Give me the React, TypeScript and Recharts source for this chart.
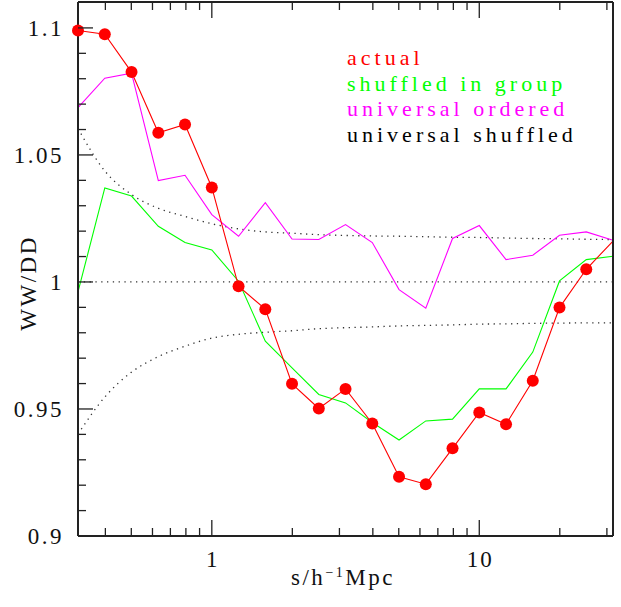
import React from 'react';
import { LineChart, Line, XAxis, YAxis, ReferenceLine } from 'recharts';

// separation s (h^-1 Mpc), log-spaced bins
const sep = [0.316, 0.398, 0.501, 0.631, 0.794, 1, 1.259, 1.585, 1.995, 2.512, 3.162, 3.981, 5.012, 6.31, 7.943, 10, 12.59, 15.85, 19.95, 25.12, 31.62];

const actual = [1.099, 1.0975, 1.0826, 1.0587, 1.062, 1.0372, 0.9983, 0.9893, 0.9599, 0.9502, 0.9579, 0.9443, 0.9233, 0.9204, 0.9345, 0.9486, 0.944, 0.9611, 0.9899, 1.005, 1.0161];
const shuffledInGroup = [0.9961, 1.037, 1.0338, 1.0219, 1.0155, 1.0126, 1.0003, 0.9767, 0.9662, 0.9557, 0.9524, 0.9447, 0.9378, 0.9453, 0.946, 0.9579, 0.9579, 0.9724, 1.0004, 1.0088, 1.0101];
const universalOrdered = [1.0686, 1.0802, 1.0822, 1.0399, 1.042, 1.0265, 1.018, 1.0312, 1.0169, 1.0167, 1.0226, 1.0155, 0.997, 0.9897, 1.0171, 1.0222, 1.0088, 1.0105, 1.0184, 1.0197, 1.0164];
const shuffledUpper = [1.0604, 1.0437, 1.0344, 1.029, 1.0258, 1.0229, 1.0209, 1.0197, 1.0192, 1.0186, 1.0183, 1.0181, 1.018, 1.0178, 1.0176, 1.0175, 1.0173, 1.0171, 1.017, 1.0168, 1.0167];
const shuffledLower = [0.9401, 0.9547, 0.9645, 0.9706, 0.9747, 0.9779, 0.9794, 0.9802, 0.9808, 0.9816, 0.982, 0.9823, 0.9827, 0.9829, 0.9831, 0.9834, 0.9835, 0.9837, 0.9838, 0.9839, 0.9839];

const xTicks = [0.4, 0.5, 0.6, 0.7, 0.8, 0.9, 1, 2, 3, 4, 5, 6, 7, 8, 9, 10, 20, 30];
const xLabels: Record<number, string> = { 1: '1', 10: '10' };
const yTicks = [0.9, 0.91, 0.92, 0.93, 0.94, 0.95, 0.96, 0.97, 0.98, 0.99, 1, 1.01, 1.02, 1.03, 1.04, 1.05, 1.06, 1.07, 1.08, 1.09, 1.1];
const yLabels: Record<number, string> = { 0.9: '0.9', 0.95: '0.95', 1: '1', 1.05: '1.05', 1.1: '1.1' };

const legend = [
  { text: 'actual', color: '#ff0000' },
  { text: 'shuffled in group', color: '#00ff00' },
  { text: 'universal ordered', color: '#ff00ff' },
  { text: 'universal shuffled', color: '#000000' },
];

const rows = sep.map((s, i) => ({
  s,
  actual: actual[i],
  group: shuffledInGroup[i],
  ordered: universalOrdered[i],
  upper: shuffledUpper[i],
  lower: shuffledLower[i],
}));

const FONT = "'Liberation Serif', 'DejaVu Serif', serif";
const AXIS = '#222';
const W = 621;
const H = 607;

const isMajorX = (v: number) => v in xLabels;
const yLabel = (v: number) => {
  const k = Object.keys(yLabels).find((kk) => Math.abs(Number(kk) - v) < 1e-6);
  return k ? yLabels[Number(k)] : '';
};
const isMajorY = (v: number) => yLabel(v) !== '';

const txt = (size: number, spacing: number): React.CSSProperties => ({
  fontFamily: FONT,
  fontSize: size,
  letterSpacing: spacing,
});

const BottomTick = (props: any) => {
  const { x, y, payload } = props;
  const len = isMajorX(payload.value) ? 16 : 8;
  return (
    <g>
      <line x1={x} x2={x} y1={y} y2={y - len} stroke={AXIS} strokeWidth={1.3} />
      {isMajorX(payload.value) && (
        <text x={x + 1} y={y + 31} textAnchor="middle" style={txt(23, 2)} fill="#111">
          {xLabels[payload.value]}
        </text>
      )}
    </g>
  );
};

const TopTick = (props: any) => {
  const { x, y, payload } = props;
  const len = isMajorX(payload.value) ? 16 : 8;
  return <line x1={x} x2={x} y1={y} y2={y + len} stroke={AXIS} strokeWidth={1.3} />;
};

const LeftTick = (props: any) => {
  const { x, y, payload } = props;
  const major = isMajorY(payload.value);
  return (
    <g>
      <line x1={x} x2={x + (major ? 15 : 8)} y1={y} y2={y} stroke={AXIS} strokeWidth={1.3} />
      {major && (
        <text x={x - 14} y={y + 8} textAnchor="end" style={txt(23, 2.5)} fill="#111">
          {yLabel(payload.value)}
        </text>
      )}
    </g>
  );
};

const RightTick = (props: any) => {
  const { x, y, payload } = props;
  const len = isMajorY(payload.value) ? 15 : 8;
  return <line x1={x} x2={x - len} y1={y} y2={y} stroke={AXIS} strokeWidth={1.3} />;
};

const RedDot = (props: any) => {
  const { cx, cy, index } = props;
  if (index === sep.length - 1) return <g key={`d${index}`} />;
  return <circle key={`d${index}`} cx={cx} cy={cy} r={6} fill="#ff0000" stroke="none" />;
};

export default function App() {
  return (
    <div style={{ position: 'absolute', left: 0, top: 0, width: W, height: H, background: '#fff' }}>
      <LineChart width={W} height={H} data={rows} margin={{ top: 1, right: 7, bottom: 0, left: 0 }}>
        <XAxis
          xAxisId="b"
          dataKey="s"
          type="number"
          scale="log"
          domain={[0.316, 31.62]}
          ticks={xTicks}
          interval={0}
          tick={BottomTick}
          tickLine={false}
          tickSize={0}
          tickMargin={0}
          height={71}
          axisLine={{ stroke: AXIS, strokeWidth: 2 }}
        />
        <XAxis
          xAxisId="t"
          orientation="top"
          dataKey="s"
          type="number"
          scale="log"
          domain={[0.316, 31.62]}
          ticks={xTicks}
          interval={0}
          tick={TopTick}
          tickLine={false}
          tickSize={0}
          tickMargin={0}
          height={1}
          axisLine={{ stroke: AXIS, strokeWidth: 2 }}
        />
        <YAxis
          yAxisId="l"
          type="number"
          domain={[0.9, 1.1102]}
          ticks={yTicks}
          interval={0}
          tick={LeftTick}
          tickLine={false}
          tickSize={0}
          tickMargin={0}
          width={78}
          axisLine={{ stroke: AXIS, strokeWidth: 2 }}
        />
        <YAxis
          yAxisId="r"
          orientation="right"
          type="number"
          domain={[0.9, 1.1102]}
          ticks={yTicks}
          interval={0}
          tick={RightTick}
          tickLine={false}
          tickSize={0}
          tickMargin={0}
          width={1}
          axisLine={{ stroke: AXIS, strokeWidth: 2 }}
        />
        <ReferenceLine xAxisId="b" yAxisId="l" y={1} stroke="#333" strokeWidth={1.3} strokeDasharray="1.3 4.5" />
        <Line xAxisId="b" yAxisId="l" type="monotone" dataKey="upper" stroke="#333" strokeWidth={1.3} strokeDasharray="1.3 4.5" dot={false} isAnimationActive={false} />
        <Line xAxisId="b" yAxisId="l" type="monotone" dataKey="lower" stroke="#333" strokeWidth={1.3} strokeDasharray="1.3 4.5" dot={false} isAnimationActive={false} />
        <Line xAxisId="b" yAxisId="l" type="linear" dataKey="ordered" stroke="#ff00ff" strokeWidth={1.1} dot={false} isAnimationActive={false} />
        <Line xAxisId="b" yAxisId="l" type="linear" dataKey="group" stroke="#00ff00" strokeWidth={1.1} dot={false} isAnimationActive={false} />
        <Line xAxisId="b" yAxisId="l" type="linear" dataKey="actual" stroke="#ff0000" strokeWidth={1.1} dot={RedDot} activeDot={false} isAnimationActive={false} />
      </LineChart>
      <svg width={W} height={H} style={{ position: 'absolute', left: 0, top: 0, pointerEvents: 'none' }}>
        {legend.map((l, i) => (
          <text key={l.text} x={347} y={65 + i * 25.5} style={txt(22, 4)} fill={l.color}>
            {l.text}
          </text>
        ))}
        <text x={36} y={283} transform="rotate(-90 36 283)" textAnchor="middle" style={txt(23, 2.5)} fill="#111">
          WW/DD
        </text>
        <text x={343} y={585} textAnchor="middle" style={txt(23, 2.5)} fill="#111">
          s/h<tspan dy={-8} style={{ fontSize: 14 }}>−1</tspan><tspan dy={8}>Mpc</tspan>
        </text>
      </svg>
    </div>
  );
}
